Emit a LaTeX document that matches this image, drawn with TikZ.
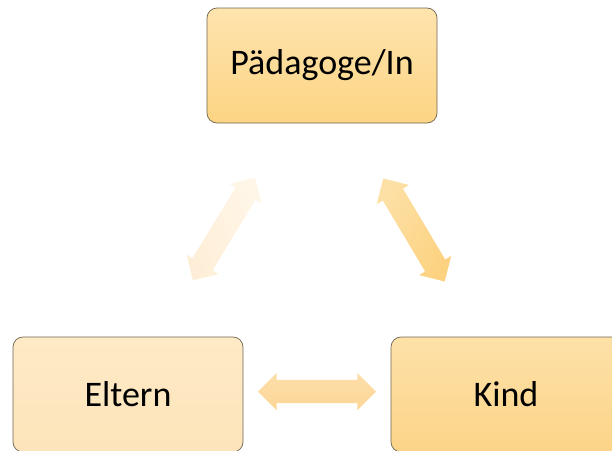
\documentclass[tikz,border=0pt]{standalone}
\usepackage{fontspec}
\setmainfont{Carlito}
\usepackage{xcolor}
\usetikzlibrary{shapes.arrows}

\tikzset{
	rolebox/.style={draw={rgb,255:red,112;green,100;blue,80}, line width=0.7pt, rounded corners=10, minimum width=230, minimum height=115, inner sep=0, font=\fontsize{36}{43}\selectfont},
	blockarrow/.style={double arrow, draw=none, minimum height=120, inner xsep=0, inner ysep=11.5, double arrow head extend=7, double arrow tip angle=90}
}

\begin{document}
\begin{tikzpicture}[x=1pt,y=1pt,yscale=-1,xscale=1]
		\useasboundingbox (0,0) rectangle (612,450);
		\clip (0,0) rectangle (612,450);
		
		%Shape: Rounded Rect [id:paedagoge] 
		\node [rolebox, top color={rgb,255:red,254;green,228;blue,174}, bottom color={rgb,255:red,252;green,212;blue,132}] (paed) at (322,65.5) {Pädagoge/In};
		%Shape: Rounded Rect [id:eltern] 
		\node [rolebox, top color={rgb,255:red,254;green,234;blue,198}, bottom color={rgb,255:red,253;green,228;blue,186}] (eltern) at (128,394.5) {Eltern};
		%Shape: Rounded Rect [id:kind] 
		\node [rolebox, top color={rgb,255:red,253;green,225;blue,168}, bottom color={rgb,255:red,252;green,212;blue,136}] (kind) at (506,394.5) {Kind};
		
		%Shape: Double Arrow [id:eltern-paed] 
		\node [blockarrow, rotate=58.7, shading=axis, top color={rgb,255:red,255;green,246;blue,232}, bottom color={rgb,255:red,254;green,238;blue,215}, shading angle=-58.7] (ep) at (224,229) {};
		%Shape: Double Arrow [id:paed-kind] 
		\node [blockarrow, rotate=-59.2, shading=axis, top color={rgb,255:red,253;green,224;blue,166}, bottom color={rgb,255:red,252;green,210;blue,128}, shading angle=59.2] (pk) at (414,230) {};
		%Shape: Double Arrow [id:eltern-kind] 
		\node [blockarrow, minimum height=118, top color={rgb,255:red,253;green,222;blue,170}, bottom color={rgb,255:red,253;green,214;blue,150}] (ek) at (317,391.5) {};
		
		\end{tikzpicture}
\end{document}
